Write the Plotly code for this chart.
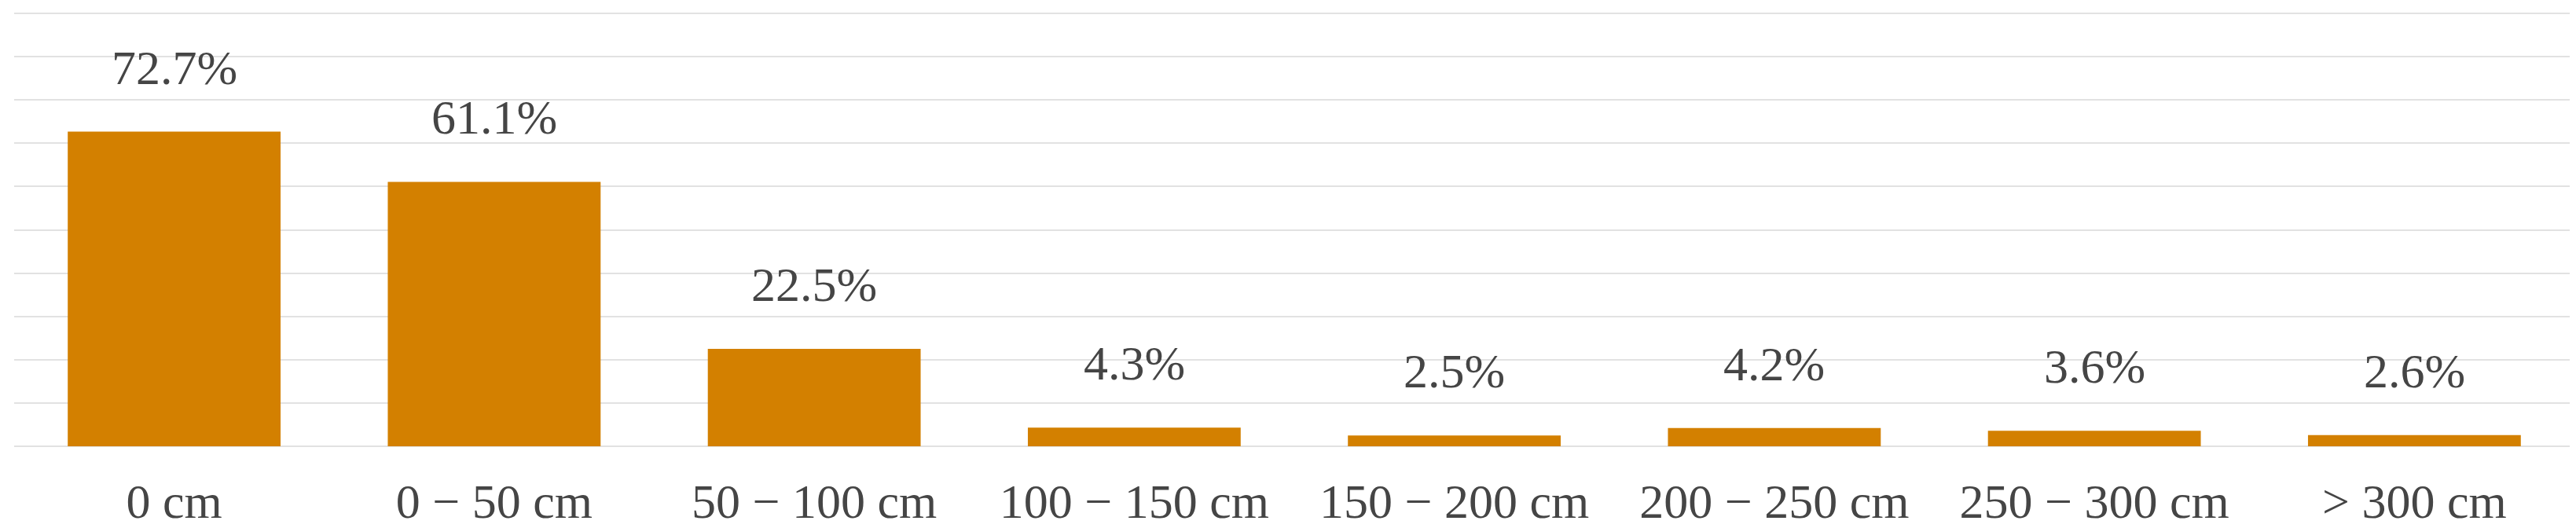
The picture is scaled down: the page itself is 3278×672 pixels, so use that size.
import plotly.graph_objects as go

# ── Data ────────────────────────────────────────────────────────────────────
categories = [
    "0 cm",
    "0 \u2212 50 cm",
    "50 \u2212 100 cm",
    "100 \u2212 150 cm",
    "150 \u2212 200 cm",
    "200 \u2212 250 cm",
    "250 \u2212 300 cm",
    "> 300 cm",
]
shares = [72.7, 61.1, 22.5, 4.3, 2.5, 4.2, 3.6, 2.6]

BAR_COLOR = "#d38000"
TEXT_COLOR = "#454545"
GRID_COLOR = "#e2e2e2"
FONT = "Liberation Serif, Times New Roman, serif"

fig = go.Figure(
    go.Bar(
        x=categories,
        y=shares,
        marker_color=BAR_COLOR,
        marker_line_width=0,
        hoverinfo="skip",
    )
)

# value labels above each bar
for cat, val in zip(categories, shares):
    fig.add_annotation(
        x=cat,
        y=val,
        text=f"{val}%",
        showarrow=False,
        yanchor="bottom",
        yshift=46,
        font=dict(family=FONT, size=62, color=TEXT_COLOR),
    )

fig.update_layout(
    width=3278,
    height=672,
    plot_bgcolor="white",
    paper_bgcolor="white",
    bargap=0.335,
    showlegend=False,
    margin=dict(l=10, r=10, t=8, b=106),
    font=dict(family=FONT, size=62, color=TEXT_COLOR),
)
fig.update_xaxes(
    showline=False,
    showgrid=False,
    ticks="",
    ticklabelstandoff=28,
    tickfont=dict(family=FONT, size=62, color=TEXT_COLOR),
)
fig.update_yaxes(
    range=[0, 100.2],
    tick0=0,
    dtick=10,
    showticklabels=False,
    showgrid=True,
    gridcolor=GRID_COLOR,
    gridwidth=2,
    zeroline=True,
    zerolinecolor=GRID_COLOR,
    zerolinewidth=2,
    showline=False,
)

fig.write_html("out.html")
